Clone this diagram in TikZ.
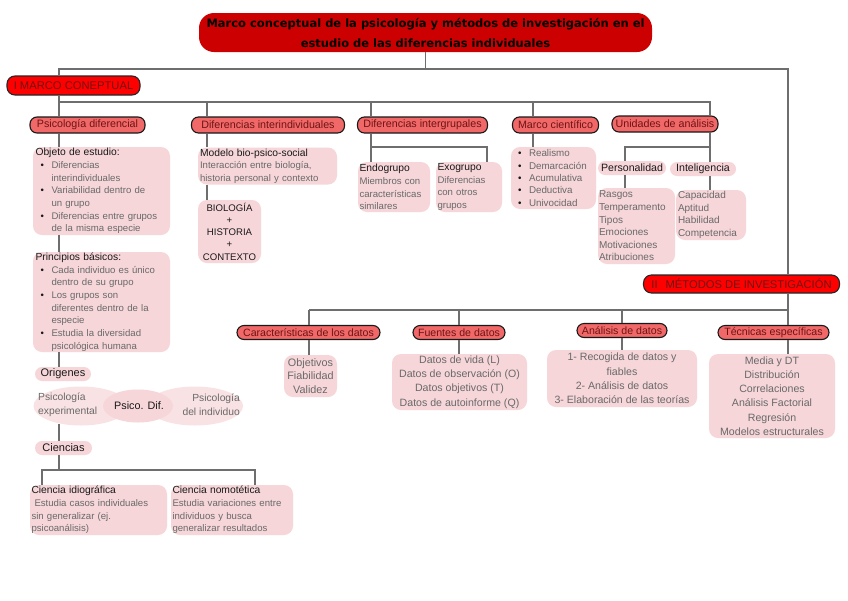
\documentclass[tikz,border=0pt]{standalone}
\usepackage{fontspec}
\setmainfont{Liberation Sans}
\newfontfamily\titlefont{DejaVu Sans}
\usetikzlibrary{shapes.geometric}
\definecolor{titred}{RGB}{204,0,0}
\definecolor{lvone}{RGB}{255,0,0}
\definecolor{lvtwo}{RGB}{240,104,104}
\definecolor{pinkbg}{RGB}{246,214,217}
\definecolor{pinklt}{RGB}{249,226,228}
\definecolor{linec}{RGB}{110,110,110}
\definecolor{txtgray}{RGB}{105,105,105}
\definecolor{txtdark}{RGB}{25,25,25}
\definecolor{lvtxt}{RGB}{110,20,20}
\newcommand{\bul}{\hspace*{5pt}\makebox[11pt][l]{\color{txtdark}\textbullet}}
\newcommand{\ind}{\hspace*{16pt}}
\newcommand{\hd}[1]{{\color{txtdark}\fontsize{10.3}{12.7}\selectfont #1}}
\begin{document}
\begin{tikzpicture}[x=1pt,y=-1pt,
 conn/.style={draw=linec,line width=1.3pt},
 titlebox/.style={fill=titred,rounded corners=15pt,inner sep=0pt,align=center,font=\titlefont\bfseries\fontsize{11.5}{20}\selectfont,text=black},
 lvlone/.style={fill=lvone,draw=black!85,line width=1.1pt,rounded corners=8pt,inner sep=0pt,font=\fontsize{11.2}{12}\selectfont,text=lvtxt},
 lvltwo/.style={fill=lvtwo,draw=black!90,line width=1.1pt,rounded corners=7pt,inner sep=0pt,font=\fontsize{10.7}{11}\selectfont,text=lvtxt},
 pinkbox/.style={fill=pinkbg,rounded corners=9pt,inner sep=0pt,font=\fontsize{9.6}{12.7}\selectfont,text=txtgray},
 pill/.style={fill=pinkbg,rounded corners=7pt,inner sep=0pt,font=\fontsize{11}{11}\selectfont,text=txtdark},
 venn/.style={ellipse,fill=pinklt,inner sep=0pt},
]
\useasboundingbox[fill=white] (0,0) rectangle (848,600);

% ---------- title and level 1
\node[titlebox,minimum width=453pt,minimum height=39pt] (title) at (425.5,32.5)
  {Marco conceptual de la psicología y métodos de investigación en el\\estudio de las diferencias individuales};
\node[lvlone,minimum width=133pt,minimum height=19pt] (marco) at (73.5,85.5) {I MARCO CONEPTUAL};
\node[lvlone,minimum width=196pt,minimum height=18pt] (metodos) at (741.5,284) {II\hspace{8pt}MÉTODOS DE INVESTIGACIÓN};

% ---------- level 2 (marco conceptual)
\node[lvltwo,minimum width=115pt,minimum height=16pt] (psd) at (87.5,125) {Psicología diferencial};
\node[lvltwo,minimum width=153pt,minimum height=16pt] (dinter) at (268,125) {Diferencias interindividuales};
\node[lvltwo,minimum width=130pt,minimum height=16pt] (dgrup) at (422.5,125) {Diferencias intergrupales};
\node[lvltwo,minimum width=86pt,minimum height=16pt] (mcien) at (555.5,125) {Marco científico};
\node[lvltwo,minimum width=106pt,minimum height=16pt] (unid) at (665,124) {Unidades de análisis};

% ---------- Psicologia diferencial column
\node[pinkbox,minimum width=137pt,minimum height=88pt,text width=132pt,align=left] (objeto) at (101.5,191)
  {\hd{Objeto de estudio:}\\
   \bul Diferencias\\ \ind interindividuales\\
   \bul Variabilidad dentro de\\ \ind un grupo\\
   \bul Diferencias entre grupos\\ \ind de la misma especie};
\node[pinkbox,minimum width=137pt,minimum height=100pt,text width=132pt,align=left] (principios) at (101.5,302)
  {\hd{Principios básicos:}\\
   \bul Cada individuo es único\\ \ind dentro de su grupo\\
   \bul Los grupos son\\ \ind diferentes dentro de la\\ \ind especie\\
   \bul Estudia la diversidad\\ \ind psicológica humana};
\node[pill,minimum width=56pt,minimum height=14pt] (origenes) at (63,374) {Origenes};

\node[venn,minimum width=95pt,minimum height=39pt] (venL) at (81,406) {};
\node[venn,minimum width=96pt,minimum height=39pt] (venR) at (195,406) {};
\node[venn,fill=pinkbg,minimum width=70pt,minimum height=33pt] (venM) at (138,406) {};
\node[font=\fontsize{10.3}{13.5}\selectfont,text=txtgray,align=left,anchor=west,inner sep=0pt] (venLt) at (38,405) {Psicología\\experimental};
\node[font=\fontsize{10.3}{13.5}\selectfont,text=txtgray,align=right,anchor=east,inner sep=0pt] (venRt) at (240,405) {Psicología\\del individuo};
\node[font=\fontsize{10.8}{12}\selectfont,text=txtdark,inner sep=0pt] (venMt) at (139,406) {Psico. Dif.};

\node[pill,minimum width=57pt,minimum height=14pt] (ciencias) at (63.5,448) {Ciencias};
\node[pinkbox,minimum width=137pt,minimum height=50pt,text width=134pt,align=left] (idio) at (98.5,510)
  {\hd{Ciencia idiográfica}\\
   \hspace*{3pt}Estudia casos individuales\\ sin generalizar (ej.\\ psicoanálisis)};
\node[pinkbox,minimum width=122pt,minimum height=50pt,text width=119pt,align=left] (nomo) at (232,510)
  {\hd{Ciencia nomotética}\\
   Estudia variaciones entre\\ individuos y busca\\ generalizar resultados};

% ---------- Diferencias interindividuales
\node[pinkbox,minimum width=139pt,minimum height=37pt,text width=135pt,align=left] (modelo) at (267.5,166)
  {\hd{Modelo bio-psico-social}\\Interacción entre biología,\\historia personal y contexto};
\node[pinkbox,minimum width=63pt,minimum height=63pt,align=center,text=txtdark,font=\fontsize{9.6}{12.3}\selectfont] (bio) at (229.5,231.5)
  {BIOLOGÍA\\+\\HISTORIA\\+\\CONTEXTO};

% ---------- Diferencias intergrupales
\node[pinkbox,minimum width=72pt,minimum height=50pt,text width=69pt,align=left] (endo) at (394,187)
  {\hd{Endogrupo}\\Miembros con\\características\\similares};
\node[pinkbox,minimum width=66pt,minimum height=50pt,text width=63pt,align=left] (exo) at (469,187)
  {\hd{Exogrupo}\\Diferencias\\con otros\\grupos};

% ---------- Marco cientifico
\node[pinkbox,minimum width=85pt,minimum height=62pt,text width=81pt,align=left,font=\fontsize{9.8}{12.3}\selectfont] (mlist) at (553.5,178)
  {\bul Realismo\\ \bul Demarcación\\ \bul Acumulativa\\ \bul Deductiva\\ \bul Univocidad};

% ---------- Unidades de analisis
\node[pill,minimum width=68pt,minimum height=14pt,font=\fontsize{10.6}{11}\selectfont] (perso) at (632,168) {Personalidad};
\node[pill,minimum width=66pt,minimum height=14pt,font=\fontsize{10.6}{11}\selectfont] (intel) at (703,169) {Inteligencia};
\node[pinkbox,minimum width=77pt,minimum height=76pt,text width=75pt,align=left,font=\fontsize{10}{12.6}\selectfont] (rasgos) at (636.5,226)
  {Rasgos\\Temperamento\\Tipos\\Emociones\\Motivaciones\\Atribuciones};
\node[pinkbox,minimum width=70pt,minimum height=50pt,text width=66pt,align=left,font=\fontsize{10}{12.6}\selectfont] (capac) at (711,215)
  {Capacidad\\Aptitud\\Habilidad\\Competencia};

% ---------- Metodos de investigacion
\node[lvltwo,minimum width=143pt,minimum height=14pt,font=\fontsize{10.6}{11}\selectfont] (carac) at (308.5,332.5) {Características de los datos};
\node[lvltwo,minimum width=92pt,minimum height=14pt,font=\fontsize{10.6}{11}\selectfont] (fuentes) at (459,332.5) {Fuentes de datos};
\node[lvltwo,minimum width=90pt,minimum height=14pt,font=\fontsize{10.6}{11}\selectfont] (anal) at (622,330.5) {Análisis de datos};
\node[lvltwo,minimum width=111pt,minimum height=14pt,font=\fontsize{10.6}{11}\selectfont] (tec) at (773.5,332.5) {Técnicas específicas};

\node[pinkbox,minimum width=53pt,minimum height=42pt,align=center,font=\fontsize{10.8}{13.5}\selectfont] (objv) at (310.5,376)
  {Objetivos\\Fiabilidad\\Validez};
\node[pinkbox,minimum width=135pt,minimum height=56pt,align=center,font=\fontsize{10.6}{14.2}\selectfont] (datos) at (459.5,382)
  {Datos de vida (L)\\Datos de observación (O)\\Datos objetivos (T)\\Datos de autoinforme (Q)};
\node[pinkbox,minimum width=150pt,minimum height=57pt,align=center,font=\fontsize{10.6}{14.2}\selectfont] (recog) at (622,378.5)
  {1- Recogida de datos y\\fiables\\2- Análisis de datos\\3- Elaboración de las teorías};
\node[pinkbox,minimum width=126pt,minimum height=84pt,align=center,font=\fontsize{10.6}{14.3}\selectfont] (tecbox) at (772,396)
  {Media y DT\\Distribución\\Correlaciones\\Análisis Factorial\\Regresión\\Modelos estructurales};

% ---------- connectors
\coordinate (jL) at (59,69);
\coordinate (jR) at (788,69);
\draw[conn] (title.south) -- (title.south |- jL);
\draw[conn] (marco.north -| jL) -- (jL) -- (jR) -- (jR |- metodos.north);

\coordinate (k1) at (59,102);
\coordinate (k2) at (207,102);
\coordinate (k3) at (371,102);
\coordinate (k4) at (533,102);
\coordinate (k5) at (710,102);
\draw[conn] (marco.south -| k1) -- (k1 |- psd.north);
\draw[conn] (k1) -- (k5) -- (k5 |- unid.north);
\draw[conn] (k2) -- (k2 |- dinter.north);
\draw[conn] (k3) -- (k3 |- dgrup.north);
\draw[conn] (k4) -- (k4 |- mcien.north);

\draw[conn] (psd.south -| k1) -- (k1 |- objeto.north);
\draw[conn] (objeto.south -| k1) -- (k1 |- principios.north);
\draw[conn] (principios.south -| k1) -- (k1 |- origenes.north);
\draw[conn] (k1 |- 0,424) -- (k1 |- ciencias.north);
\coordinate (m1) at (59,470);
\coordinate (c1) at (42,470);
\coordinate (c2) at (255,470);
\draw[conn] (ciencias.south -| k1) -- (m1);
\draw[conn] (c1 |- idio.north) -- (c1) -- (c2) -- (c2 |- nomo.north);

\draw[conn] (dinter.south -| k2) -- (k2 |- modelo.north);
\draw[conn] (modelo.south -| k2) -- (k2 |- bio.north);

\coordinate (g1) at (371,147);
\coordinate (g2) at (487,147);
\draw[conn] (dgrup.south -| k3) -- (k3 |- endo.north);
\draw[conn] (g1) -- (g2) -- (g2 |- exo.north);

\draw[conn] (mcien.south -| k4) -- (k4 |- mlist.north);

\coordinate (u1) at (625,147);
\draw[conn] (unid.south -| k5) -- (k5 |- intel.north);
\draw[conn] (k5 |- u1) -- (u1) -- (u1 |- perso.north);
\draw[conn] (perso.south -| u1) -- (u1 |- rasgos.north);
\draw[conn] (intel.south -| k5) -- (k5 |- capac.north);

\coordinate (q1) at (309,310);
\coordinate (q2) at (459,310);
\coordinate (q3) at (622,310);
\coordinate (q4) at (788,310);
\draw[conn] (metodos.south -| q4) -- (q4 |- tec.north);
\draw[conn] (q1) -- (q4);
\draw[conn] (q1) -- (q1 |- carac.north);
\draw[conn] (q2) -- (q2 |- fuentes.north);
\draw[conn] (q3) -- (q3 |- anal.north);
\draw[conn] (carac.south -| q1) -- (q1 |- objv.north);
\draw[conn] (fuentes.south -| q2) -- (q2 |- datos.north);
\draw[conn] (anal.south -| q3) -- (q3 |- recog.north);
\draw[conn] (tec.south -| q4) -- (q4 |- tecbox.north);
\end{tikzpicture}
\end{document}
